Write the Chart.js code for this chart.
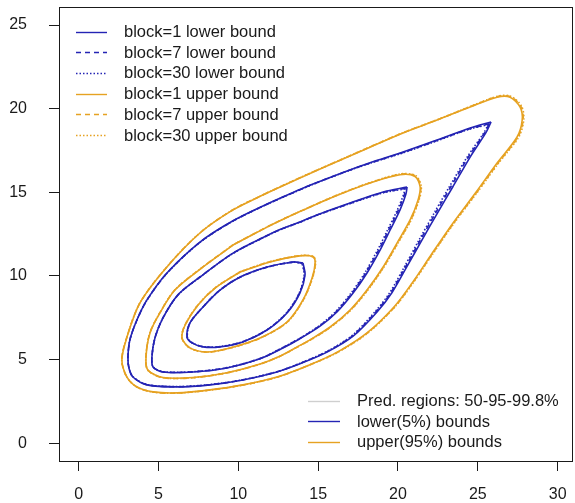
<!DOCTYPE html>
<html>
<head>
<meta charset="utf-8">
<script src="https://cdn.jsdelivr.net/npm/chart.js@4.4.1/dist/chart.umd.min.js"></script>
<style>
  html, body { margin: 0; padding: 0; background: #ffffff; }
  #wrap { width: 575px; height: 503px; }
</style>
</head>
<body>
<div id="wrap"><canvas id="c" width="575" height="503"></canvas></div>
<script>
// Axis ticks
const xTicks = [0, 5, 10, 15, 20, 25, 30];
const yTicks = [0, 5, 10, 15, 20, 25];

// Contour outlines, flat lists of x,y pairs (closed loops)
// 99.8% region, lower (5%) bound
const lower998_b1 = [25.83,19.21, 24.52,18.85, 22.45,18.13, 20.32,17.41, 18.25,16.77, 16.81,16.28, 14.68,15.50, 13.86,15.17, 11.80,14.30, 9.67,13.30, 7.60,12.03, 5.53,10.18, 4.28,8.57, 3.65,7.37, 3.21,6.18, 3.09,5.16, 3.15,4.50, 3.40,3.96, 4.28,3.49, 6.16,3.37, 8.23,3.49, 10.29,3.78, 12.42,4.26, 13.86,4.75, 15.56,5.45, 17.19,6.40, 18.69,7.85, 19.62,9.00, 20.55,10.54, 21.50,12.15, 22.48,13.77, 23.43,15.32, 24.52,17.11, 25.50,18.55, 25.83,19.21];
const lower998_b7 = [25.72,19.10, 24.50,18.80, 22.45,18.10, 20.32,17.38, 18.25,16.75, 16.81,16.27, 14.68,15.49, 13.86,15.16, 11.80,14.29, 9.67,13.29, 7.60,12.02, 5.53,10.17, 4.28,8.56, 3.65,7.37, 3.21,6.18, 3.09,5.16, 3.15,4.50, 3.40,3.97, 4.28,3.50, 6.16,3.38, 8.23,3.50, 10.29,3.79, 12.42,4.27, 13.86,4.77, 15.56,5.48, 17.15,6.42, 18.62,7.86, 19.55,9.00, 20.47,10.54, 21.40,12.15, 22.36,13.77, 23.30,15.32, 24.40,17.10, 25.40,18.52, 25.72,19.10];
const lower998_b30 = [25.66,19.05, 24.48,18.78, 22.45,18.08, 20.32,17.36, 18.25,16.74, 16.81,16.26, 14.68,15.48, 13.86,15.15, 11.80,14.28, 9.67,13.28, 7.60,12.01, 5.53,10.16, 4.28,8.56, 3.65,7.37, 3.21,6.18, 3.09,5.16, 3.15,4.51, 3.40,3.98, 4.28,3.51, 6.16,3.39, 8.23,3.51, 10.29,3.80, 12.42,4.28, 13.86,4.78, 15.56,5.50, 17.12,6.44, 18.57,7.87, 19.49,9.01, 20.40,10.55, 21.32,12.15, 22.27,13.77, 23.21,15.32, 24.32,17.09, 25.34,18.50, 25.66,19.05];

// 95% region, lower bound
const lower95_b1 = [20.57,15.32, 19.07,15.02, 17.00,14.36, 14.93,13.65, 13.86,13.23, 12.61,12.78, 11.80,12.42, 9.67,11.37, 7.60,9.94, 6.22,8.87, 5.28,7.49, 4.78,6.30, 4.59,5.16, 4.66,4.56, 5.28,4.26, 7.16,4.26, 9.29,4.50, 11.36,5.05, 12.70,5.65, 13.86,6.25, 15.12,7.00, 16.18,7.85, 17.19,8.98, 18.06,10.18, 18.88,11.55, 19.51,12.75, 20.13,13.95, 20.50,14.90, 20.57,15.32];
const lower95_b7 = [20.49,15.25, 19.07,14.99, 17.00,14.34, 14.93,13.64, 13.86,13.22, 12.61,12.77, 11.80,12.41, 9.67,11.36, 7.60,9.94, 6.22,8.87, 5.28,7.49, 4.78,6.30, 4.59,5.16, 4.66,4.57, 5.28,4.27, 7.16,4.27, 9.29,4.51, 11.36,5.06, 12.70,5.67, 13.86,6.27, 15.10,7.02, 16.13,7.86, 17.12,8.98, 17.98,10.18, 18.79,11.55, 19.42,12.75, 20.03,13.95, 20.41,14.88, 20.49,15.25];
const lower95_b30 = [20.44,15.21, 19.07,14.97, 17.00,14.33, 14.93,13.63, 13.86,13.21, 12.61,12.76, 11.80,12.40, 9.67,11.35, 7.60,9.93, 6.22,8.86, 5.28,7.49, 4.78,6.30, 4.59,5.16, 4.66,4.58, 5.28,4.28, 7.16,4.28, 9.29,4.52, 11.36,5.07, 12.70,5.68, 13.86,6.28, 15.08,7.03, 16.09,7.87, 17.07,8.99, 17.92,10.18, 18.72,11.55, 19.35,12.75, 19.96,13.95, 20.35,14.86, 20.44,15.21];

// 50% region, lower bound
const lower50_b1 = [14.05,10.78, 13.43,10.84, 11.80,10.54, 10.11,9.94, 8.85,9.16, 7.79,8.15, 6.97,7.19, 6.79,6.35, 7.10,6.00, 7.79,5.76, 8.85,5.76, 10.29,6.06, 11.80,6.77, 13.05,7.79, 13.86,8.98, 14.18,10.06, 14.05,10.78];
const lower50_b7 = [14.02,10.76, 13.43,10.83, 11.80,10.53, 10.11,9.93, 8.85,9.16, 7.79,8.15, 6.97,7.19, 6.80,6.35, 7.10,6.01, 7.79,5.77, 8.85,5.77, 10.29,6.07, 11.80,6.78, 13.03,7.79, 13.83,8.98, 14.15,10.06, 14.02,10.76];
const lower50_b30 = [14.00,10.75, 13.43,10.82, 11.80,10.52, 10.11,9.93, 8.85,9.15, 7.79,8.15, 6.98,7.19, 6.81,6.35, 7.11,6.01, 7.79,5.78, 8.85,5.78, 10.29,6.08, 11.80,6.79, 13.02,7.80, 13.81,8.98, 14.12,10.06, 14.00,10.75];

// 99.8% region, upper (95%) bound
const upper998_b1 = [11.80,14.96, 9.67,13.95, 7.60,12.57, 5.53,10.54, 3.84,8.39, 3.03,6.35, 2.71,4.98, 3.03,3.96, 3.65,3.37, 4.66,3.07, 6.16,3.01, 8.23,3.19, 10.29,3.49, 12.42,3.96, 14.49,4.70, 16.20,5.45, 18.06,6.60, 19.75,8.15, 20.90,9.60, 22.10,11.30, 23.45,13.17, 24.85,14.96, 26.22,16.77, 27.46,18.31, 27.78,19.32, 27.65,20.10, 27.02,20.69, 26.21,20.69, 24.52,20.10, 22.45,19.32, 20.32,18.55, 18.25,17.70, 16.81,17.10, 13.86,15.86, 11.80,14.96];
const upper998_b7 = [11.80,14.97, 9.67,13.96, 7.60,12.58, 5.53,10.55, 3.84,8.39, 3.02,6.35, 2.70,4.98, 3.02,3.95, 3.65,3.36, 4.66,3.06, 6.16,3.00, 8.23,3.18, 10.29,3.48, 12.42,3.95, 14.49,4.69, 16.21,5.44, 18.08,6.59, 19.78,8.14, 20.93,9.60, 22.14,11.30, 23.49,13.17, 24.90,14.96, 26.28,16.77, 27.52,18.31, 27.84,19.34, 27.70,20.14, 27.04,20.73, 26.21,20.72, 24.52,20.12, 22.45,19.33, 20.32,18.56, 18.25,17.71, 16.81,17.11, 13.86,15.87, 11.80,14.97];
const upper998_b30 = [11.80,14.97, 9.67,13.96, 7.60,12.58, 5.53,10.55, 3.84,8.40, 3.02,6.35, 2.70,4.98, 3.02,3.95, 3.65,3.36, 4.66,3.06, 6.16,3.00, 8.23,3.18, 10.29,3.48, 12.42,3.95, 14.49,4.69, 16.22,5.43, 18.10,6.58, 19.80,8.14, 20.96,9.60, 22.17,11.30, 23.53,13.17, 24.94,14.96, 26.32,16.77, 27.57,18.31, 27.88,19.35, 27.74,20.16, 27.06,20.75, 26.21,20.74, 24.52,20.13, 22.45,19.34, 20.32,18.57, 18.25,17.72, 16.81,17.12, 13.86,15.88, 11.80,14.97];

// 95% region, upper bound
const upper95_b1 = [9.67,11.85, 7.60,10.40, 6.03,9.16, 5.09,7.79, 4.47,6.59, 4.22,5.16, 4.34,4.38, 5.28,3.93, 7.16,3.93, 9.29,4.22, 11.36,4.74, 12.70,5.25, 13.86,5.85, 14.49,6.18, 15.75,6.95, 17.00,7.97, 18.06,9.16, 19.07,10.54, 19.94,11.97, 20.76,13.35, 21.26,14.55, 21.39,15.32, 21.07,15.95, 20.13,16.05, 18.06,15.50, 15.94,14.72, 13.86,13.85, 12.61,13.30, 11.80,12.92, 9.67,11.85];
const upper95_b7 = [9.67,11.86, 7.60,10.41, 6.02,9.16, 5.08,7.79, 4.46,6.59, 4.21,5.16, 4.33,4.37, 5.28,3.92, 7.16,3.92, 9.29,4.21, 11.36,4.73, 12.70,5.24, 13.86,5.84, 14.50,6.17, 15.77,6.94, 17.03,7.96, 18.09,9.16, 19.10,10.54, 19.98,11.97, 20.80,13.35, 21.30,14.56, 21.43,15.34, 21.10,15.98, 20.13,16.08, 18.06,15.51, 15.94,14.73, 13.86,13.86, 12.61,13.31, 11.80,12.93, 9.67,11.86];
const upper95_b30 = [9.67,11.86, 7.60,10.41, 6.02,9.16, 5.08,7.79, 4.46,6.59, 4.21,5.16, 4.33,4.37, 5.28,3.92, 7.16,3.92, 9.29,4.21, 11.36,4.73, 12.70,5.24, 13.86,5.84, 14.51,6.17, 15.78,6.94, 17.05,7.96, 18.12,9.16, 19.13,10.54, 20.01,11.97, 20.83,13.35, 21.33,14.57, 21.46,15.35, 21.12,16.00, 20.13,16.10, 18.06,15.52, 15.94,14.74, 13.86,13.86, 12.61,13.31, 11.80,12.93, 9.67,11.86];

// 50% region, upper bound
const upper50_b1 = [10.11,10.24, 8.55,9.28, 7.48,8.27, 6.67,7.07, 6.48,6.29, 6.97,5.70, 8.04,5.46, 9.48,5.70, 11.36,6.29, 13.05,7.25, 14.05,8.57, 14.62,9.88, 14.81,10.78, 14.68,11.14, 13.86,11.20, 11.99,10.84, 10.11,10.24];
const upper50_b7 = [10.11,10.25, 8.55,9.29, 7.48,8.27, 6.66,7.07, 6.47,6.29, 6.97,5.69, 8.04,5.45, 9.48,5.69, 11.36,6.28, 13.06,7.24, 14.07,8.57, 14.64,9.88, 14.83,10.79, 14.69,11.16, 13.86,11.21, 11.99,10.85, 10.11,10.25];
const upper50_b30 = [10.11,10.25, 8.55,9.29, 7.48,8.28, 6.66,7.07, 6.47,6.29, 6.97,5.69, 8.04,5.45, 9.48,5.69, 11.36,6.28, 13.07,7.24, 14.08,8.57, 14.65,9.88, 14.84,10.80, 14.70,11.17, 13.86,11.22, 11.99,10.86, 10.11,10.26];

// Legend labels
const legendBlocks = ['block=1 lower bound', 'block=7 lower bound', 'block=30 lower bound',
                      'block=1 upper bound', 'block=7 upper bound', 'block=30 upper bound'];
const legendBounds = ['Pred. regions: 50-95-99.8%', 'lower(5%) bounds', 'upper(95%) bounds'];

const BLUE = '#2424b4';
const ORANGE = '#e6a222';
const GREY = '#cfcfcf';
const INK = '#1a1a1a';
const FONT = '"Liberation Sans", Arial, sans-serif';

const DASH = { b1: [], b7: [5, 4], b30: [1.5, 2] };

function pairs(flat) {
  const pts = [];
  for (let i = 0; i < flat.length; i += 2) pts.push({ x: flat[i], y: flat[i + 1] });
  return pts;
}

function contour(flat, color, dash) {
  return {
    data: pairs(flat),
    showLine: true,
    borderColor: color,
    backgroundColor: color,
    borderWidth: 1.6,
    borderDash: dash,
    pointRadius: 0,
    pointHoverRadius: 0,
    tension: 0.3,
    fill: false
  };
}

const datasets = [
  contour(upper998_b30, ORANGE, DASH.b30), contour(upper95_b30, ORANGE, DASH.b30), contour(upper50_b30, ORANGE, DASH.b30),
  contour(upper998_b7, ORANGE, DASH.b7), contour(upper95_b7, ORANGE, DASH.b7), contour(upper50_b7, ORANGE, DASH.b7),
  contour(upper998_b1, ORANGE, DASH.b1), contour(upper95_b1, ORANGE, DASH.b1), contour(upper50_b1, ORANGE, DASH.b1),
  contour(lower998_b30, BLUE, DASH.b30), contour(lower95_b30, BLUE, DASH.b30), contour(lower50_b30, BLUE, DASH.b30),
  contour(lower998_b7, BLUE, DASH.b7), contour(lower95_b7, BLUE, DASH.b7), contour(lower50_b7, BLUE, DASH.b7),
  contour(lower998_b1, BLUE, DASH.b1), contour(lower95_b1, BLUE, DASH.b1), contour(lower50_b1, BLUE, DASH.b1)
];

// Frame around the plotting region and the two legends
const framePlugin = {
  id: 'frameAndLegends',
  afterDraw(chart) {
    const { ctx, chartArea: a } = chart;
    ctx.save();
    ctx.strokeStyle = INK;
    ctx.lineWidth = 1;
    ctx.setLineDash([]);
    ctx.strokeRect(Math.round(a.left) + 0.5, Math.round(a.top) + 0.5,
                   Math.round(a.right - a.left), Math.round(a.bottom - a.top));

    ctx.font = '16.5px ' + FONT;
    ctx.textBaseline = 'middle';
    ctx.textAlign = 'left';

    const blockStyles = [
      [BLUE, DASH.b1], [BLUE, DASH.b7], [BLUE, DASH.b30],
      [ORANGE, DASH.b1], [ORANGE, DASH.b7], [ORANGE, DASH.b30]
    ];
    legendBlocks.forEach((label, i) => {
      const y = 31.5 + i * 20.7;
      ctx.strokeStyle = blockStyles[i][0];
      ctx.setLineDash(blockStyles[i][1]);
      ctx.lineWidth = 1.4;
      ctx.beginPath();
      ctx.moveTo(76, Math.round(y) + 0.5);
      ctx.lineTo(107, Math.round(y) + 0.5);
      ctx.stroke();
      ctx.fillStyle = INK;
      ctx.fillText(label, 124, y + 1);
    });

    const boundColors = [GREY, BLUE, ORANGE];
    legendBounds.forEach((label, i) => {
      const y = 400.5 + i * 20.5;
      ctx.strokeStyle = boundColors[i];
      ctx.setLineDash([]);
      ctx.lineWidth = 1.4;
      ctx.beginPath();
      ctx.moveTo(308, Math.round(y) + 0.5);
      ctx.lineTo(340, Math.round(y) + 0.5);
      ctx.stroke();
      ctx.fillStyle = INK;
      ctx.fillText(label, 357, y + 1);
    });
    ctx.restore();
  }
};

new Chart(document.getElementById('c'), {
  type: 'scatter',
  data: { datasets },
  plugins: [framePlugin],
  options: {
    responsive: false,
    devicePixelRatio: 1,
    animation: false,
    events: [],
    layout: { padding: { top: 7, right: 3, left: 0, bottom: 0 } },
    plugins: { legend: { display: false }, tooltip: { enabled: false } },
    scales: {
      x: {
        type: 'linear',
        min: -1.23,
        max: 30.9,
        afterBuildTicks: s => { s.ticks = xTicks.map(v => ({ value: v })); },
        afterFit: s => { s.height = 42; s.paddingLeft = 0; s.paddingRight = 0; },
        grid: { drawOnChartArea: false, tickLength: 10, color: INK, tickWidth: 1 },
        border: { display: false },
        ticks: { color: INK, font: { family: FONT, size: 16 }, padding: 14, maxRotation: 0, autoSkip: false }
      },
      y: {
        type: 'linear',
        min: -1.06,
        max: 26.08,
        afterBuildTicks: s => { s.ticks = yTicks.map(v => ({ value: v })); },
        afterFit: s => { s.width = 59; s.paddingTop = 0; s.paddingBottom = 0; },
        grid: { drawOnChartArea: false, tickLength: 10, color: INK, tickWidth: 1 },
        border: { display: false },
        ticks: { color: INK, font: { family: FONT, size: 16 }, padding: 22, autoSkip: false }
      }
    }
  }
});
</script>
</body>
</html>
